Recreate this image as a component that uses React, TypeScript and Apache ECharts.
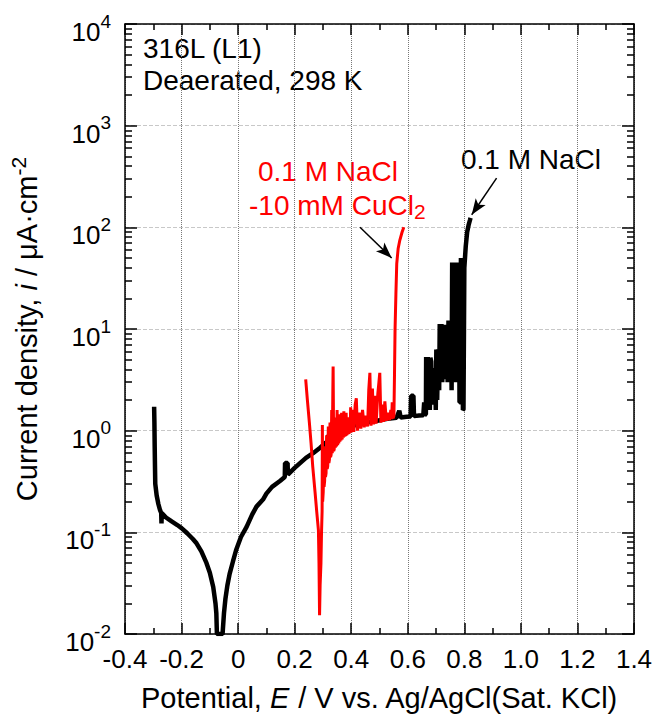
import React, { useEffect, useRef } from 'react';
import * as echarts from 'echarts';

const FONT = "'Liberation Sans', Arial, Helvetica, sans-serif";

// x axis (potential, V)
const xMin = -0.4;
const xMax = 1.4;
const xStep = 0.2;

// y axis (current density, uA/cm2) – log scale
const yMajorTicks = [0.01, 0.1, 1, 10, 100, 1000, 10000];
const yMinorTicks = [
  0.02, 0.03, 0.04, 0.05, 0.06, 0.07, 0.08, 0.09,
  0.2, 0.3, 0.4, 0.5, 0.6, 0.7, 0.8, 0.9,
  2, 3, 4, 5, 6, 7, 8, 9,
  20, 30, 40, 50, 60, 70, 80, 90,
  200, 300, 400, 500, 600, 700, 800, 900,
  2000, 3000, 4000, 5000, 6000, 7000, 8000, 9000,
];

// 0.1 M NaCl – cathodic branch
const blackCathodic: [number, number][] = [
  [-0.297, 1.72], [-0.296, 1.2], [-0.295, 0.7], [-0.294, 0.45], [-0.293, 0.3],
  [-0.288, 0.23], [-0.282, 0.19], [-0.276, 0.165], [-0.272, 0.155], [-0.271, 0.122],
  [-0.27, 0.155], [-0.255, 0.14], [-0.235, 0.128], [-0.215, 0.118], [-0.2, 0.11],
  [-0.18, 0.098], [-0.16, 0.086], [-0.147, 0.078], [-0.13, 0.065], [-0.112, 0.05],
  [-0.1, 0.04], [-0.088, 0.029], [-0.08, 0.02], [-0.077, 0.016], [-0.075, 0.01],
];
// 0.1 M NaCl – anodic branch, passive region
const blackAnodic: [number, number][] = [
  [-0.055, 0.01], [-0.05, 0.016], [-0.045, 0.022], [-0.038, 0.03], [-0.03, 0.039],
  [-0.018, 0.052], [-0.007, 0.067], [0.01, 0.09], [0.03, 0.113], [0.05, 0.15],
  [0.065, 0.179], [0.088, 0.21], [0.1, 0.24], [0.12, 0.28], [0.148, 0.32],
  [0.165, 0.35], [0.166, 0.48], [0.175, 0.48], [0.176, 0.37], [0.2, 0.43],
  [0.219, 0.48], [0.24, 0.54], [0.265, 0.6], [0.29, 0.68], [0.31, 0.76],
  [0.318, 0.8], [0.319, 0.9], [0.326, 0.9], [0.327, 0.86], [0.35, 0.95],
  [0.375, 1.04], [0.395, 1.09], [0.42, 1.15], [0.45, 1.2], [0.478, 1.23],
  [0.51, 1.28], [0.537, 1.32], [0.56, 1.34], [0.57, 1.57], [0.575, 1.35],
  [0.596, 1.37], [0.61, 1.38], [0.612, 2.2], [0.62, 2.2], [0.622, 1.39],
  [0.64, 1.41], [0.655, 1.42],
];
// 0.1 M NaCl – metastable pitting and breakdown
const blackPitting: [number, number][] = [
  [0.657, 1.43], [0.658, 1.9], [0.66, 1.9], [0.661, 1.44], [0.664, 1.45],
  [0.665, 5.3], [0.668, 1.6], [0.67, 5.3], [0.673, 1.6], [0.675, 5.2],
  [0.678, 1.6], [0.68, 5.2], [0.683, 4.8], [0.685, 1.9], [0.688, 4.1],
  [0.691, 1.8], [0.694, 4.1], [0.697, 4.0], [0.699, 1.6], [0.701, 6.3],
  [0.704, 2.0], [0.707, 6.3], [0.709, 6.0], [0.711, 2.5], [0.713, 11.2],
  [0.716, 3.0], [0.719, 11.2], [0.722, 3.0], [0.725, 11], [0.728, 3.2],
  [0.731, 11], [0.734, 3.5], [0.737, 11], [0.739, 10], [0.741, 3.0],
  [0.744, 12.1], [0.747, 3.0], [0.75, 12.1], [0.753, 11], [0.755, 2.5],
  [0.757, 45], [0.76, 3.0], [0.763, 44], [0.766, 3.0], [0.769, 45],
  [0.772, 3.0], [0.775, 44], [0.778, 3.0], [0.781, 45], [0.783, 1.9],
  [0.786, 1.9], [0.788, 50], [0.791, 3.0], [0.793, 50], [0.795, 1.6],
  [0.797, 1.62], [0.8, 40], [0.805, 65], [0.81, 90], [0.815, 105],
  [0.82, 118], [0.822, 124],
];

// 0.1 M NaCl - 10 mM CuCl2
const redCurve: [number, number][] = [
  [0.239, 3.2], [0.245, 2.0], [0.252, 1.2], [0.258, 0.75], [0.264, 0.44],
  [0.272, 0.25], [0.278, 0.16], [0.284, 0.105], [0.286, 0.05], [0.288, 0.0153],
  [0.29, 0.03], [0.293, 0.05], [0.295, 0.1], [0.297, 0.16], [0.298, 1.14],
  [0.299, 0.2], [0.301, 0.25], [0.303, 0.55], [0.304, 0.28], [0.306, 0.32],
  [0.307, 0.7], [0.309, 0.35], [0.311, 0.38], [0.313, 0.9], [0.315, 0.42],
  [0.317, 0.45], [0.319, 1.1], [0.321, 0.48], [0.323, 0.52], [0.325, 1.2],
  [0.327, 0.55], [0.329, 0.58], [0.331, 1.6], [0.333, 0.6], [0.335, 2.5],
  [0.336, 4.27], [0.338, 0.63], [0.34, 0.66], [0.342, 1.35], [0.344, 0.68],
  [0.346, 1.2], [0.348, 0.7], [0.35, 1.6], [0.352, 0.72], [0.354, 1.3],
  [0.356, 0.75], [0.358, 1.45], [0.36, 0.78], [0.362, 1.2], [0.364, 0.8],
  [0.366, 1.5], [0.368, 0.82], [0.37, 1.3], [0.372, 0.85], [0.374, 1.55],
  [0.376, 0.87], [0.378, 1.3], [0.38, 0.88], [0.382, 1.5], [0.384, 0.9],
  [0.386, 1.2], [0.388, 0.92], [0.39, 1.35], [0.392, 0.93], [0.394, 1.2],
  [0.396, 0.95], [0.398, 1.7], [0.4, 0.96], [0.405, 1.6], [0.409, 0.97],
  [0.414, 1.8], [0.418, 2.08], [0.422, 1.0], [0.428, 1.5], [0.434, 1.05],
  [0.44, 1.6], [0.446, 1.08], [0.452, 1.4], [0.458, 1.1], [0.462, 2.5],
  [0.466, 3.7], [0.47, 1.12], [0.475, 2.6], [0.479, 1.15], [0.484, 2.2],
  [0.488, 1.17], [0.494, 2.3], [0.498, 3.0], [0.501, 3.7], [0.505, 1.2],
  [0.51, 1.8], [0.514, 1.22], [0.519, 1.94], [0.524, 1.25], [0.53, 1.5],
  [0.535, 1.27], [0.54, 1.6], [0.543, 1.3], [0.545, 1.9], [0.548, 1.32],
  [0.551, 1.4], [0.553, 3.5], [0.555, 9.8], [0.558, 22], [0.561, 44],
  [0.566, 62], [0.572, 75], [0.58, 90], [0.586, 100],
];

// annotation arrows [start, tip] in data coordinates
const redArrow: [number, number][] = [[0.431, 100], [0.543, 50]];
const blackArrow: [number, number][] = [[0.914, 305], [0.826, 133]];

const blackCurve = [...blackCathodic, ...blackAnodic, ...blackPitting];

export default function App() {
  const ref = useRef<HTMLDivElement>(null);
  useEffect(() => {
    if (!ref.current) return;
    const chart = echarts.init(ref.current, null, { renderer: 'svg' });
    const axisLine = { show: true, onZero: false, lineStyle: { color: '#000', width: 1.5 } };
    const noLine = { show: false, onZero: false };
    const tickStyle = { color: '#000', width: 1.5 };
    const xFmt = (v: number) => (Math.abs(v) < 1e-9 ? '0' : v.toFixed(1));
    const yFmt = (v: number) => `{b|10}{s|${Math.round(Math.log10(v))}}`;
    const baseX = {
      type: 'value',
      min: xMin,
      max: xMax,
      interval: xStep,
      axisLine,
      axisTick: { show: true, inside: true, length: 11, lineStyle: tickStyle },
      minorTick: { show: true, splitNumber: 2, length: 6, lineStyle: tickStyle },
    };
    const baseY = {
      type: 'log',
      logBase: 10,
      min: 0.01,
      max: 10000,
      splitNumber: 6,
      axisLine,
    };
    const arrowLine = (a: [number, number][]) => [
      { coord: a[0], symbol: 'none' },
      { coord: a[1], symbol: 'arrow', symbolSize: [9, 16] },
    ];
    chart.setOption({
      animation: false,
      backgroundColor: '#fff',
      grid: { left: 125, right: 22, top: 24, bottom: 85, containLabel: false },
      xAxis: [
        {
          ...baseX,
          position: 'bottom',
          axisLabel: { formatter: xFmt, color: '#000', fontSize: 26, fontFamily: FONT, margin: 12 },
          splitLine: { show: true, lineStyle: { type: 'dotted', color: '#777', width: 1 } },
          name: '{n|Potential, }{i|E}{n| / V vs. Ag/AgCl(Sat. KCl)}',
          nameLocation: 'middle',
          nameGap: 49,
          nameTextStyle: {
            color: '#000',
            rich: {
              n: { fontSize: 29, fontFamily: FONT, color: '#000' },
              i: { fontSize: 29, fontFamily: FONT, color: '#000', fontStyle: 'italic' },
            },
          },
        },
        {
          ...baseX,
          position: 'top',
          axisLabel: { show: false },
          splitLine: { show: false },
        },
      ],
      yAxis: [
        {
          ...baseY,
          position: 'left',
          axisTick: { show: true, inside: true, length: 12, lineStyle: tickStyle, customValues: yMajorTicks },
          axisLabel: {
            customValues: yMajorTicks,
            formatter: yFmt,
            margin: 14,
            rich: {
              b: { fontSize: 26, fontFamily: FONT, color: '#000', padding: [16, 0, 0, 0] },
              s: { fontSize: 19, fontFamily: FONT, color: '#000', padding: [0, 0, 6, 0] },
            },
          },
          splitLine: { show: true, lineStyle: { type: 'dashed', color: '#c8c8c8', width: 1 } },
          name: '{n|Current density, }{i|i}{n| / μA·cm}{s|-2}',
          nameLocation: 'middle',
          nameRotate: 90,
          nameGap: 80,
          nameTextStyle: {
            color: '#000',
            rich: {
              n: { fontSize: 29, fontFamily: FONT, color: '#000' },
              i: { fontSize: 29, fontFamily: FONT, color: '#000', fontStyle: 'italic' },
              s: { fontSize: 21, fontFamily: FONT, color: '#000', padding: [0, 0, 16, 0] },
            },
          },
        },
        {
          ...baseY,
          position: 'left',
          axisLine: noLine,
          axisTick: { show: true, inside: true, length: 7, lineStyle: tickStyle, customValues: yMinorTicks },
          axisLabel: { show: false },
          splitLine: { show: false },
        },
        {
          ...baseY,
          position: 'right',
          axisTick: { show: true, inside: true, length: 12, lineStyle: tickStyle, customValues: yMajorTicks },
          axisLabel: { show: false },
          splitLine: { show: false },
        },
        {
          ...baseY,
          position: 'right',
          axisLine: noLine,
          axisTick: { show: true, inside: true, length: 7, lineStyle: tickStyle, customValues: yMinorTicks },
          axisLabel: { show: false },
          splitLine: { show: false },
        },
      ],
      series: [
        {
          name: '0.1 M NaCl',
          type: 'line',
          data: blackCurve,
          xAxisIndex: 0,
          yAxisIndex: 0,
          showSymbol: false,
          symbol: 'none',
          lineStyle: { color: '#000', width: 4.5 },
          z: 3,
          silent: true,
        },
        {
          name: '0.1 M NaCl -10 mM CuCl2',
          type: 'line',
          data: redCurve,
          xAxisIndex: 0,
          yAxisIndex: 0,
          showSymbol: false,
          symbol: 'none',
          lineStyle: { color: '#ff0000', width: 3 },
          z: 4,
          silent: true,
          markLine: {
            silent: true,
            animation: false,
            label: { show: false },
            lineStyle: { color: '#000', width: 1.5, type: 'solid' },
            data: [arrowLine(redArrow), arrowLine(blackArrow)],
          },
        },
      ],
      graphic: [
        {
          type: 'text',
          left: 143,
          top: 34,
          style: { text: '316L (L1)', fontSize: 28, fontFamily: FONT, fill: '#000' },
        },
        {
          type: 'text',
          left: 143,
          top: 66,
          style: { text: 'Deaerated, 298 K', fontSize: 28, fontFamily: FONT, fill: '#000' },
        },
        {
          type: 'text',
          left: 258,
          top: 157,
          style: { text: '0.1 M NaCl', fontSize: 28, fontFamily: FONT, fill: '#ff0000' },
        },
        {
          type: 'text',
          left: 249,
          top: 191,
          style: {
            text: '{n|-10 mM CuCl}{sub|2}',
            rich: {
              n: { fontSize: 28, fontFamily: FONT, fill: '#ff0000' },
              sub: { fontSize: 21, fontFamily: FONT, fill: '#ff0000', padding: [12, 0, 0, 0] },
            },
          },
        },
        {
          type: 'text',
          left: 461,
          top: 145,
          style: { text: '0.1 M NaCl', fontSize: 28, fontFamily: FONT, fill: '#000' },
        },
      ],
    });
    return () => chart.dispose();
  }, []);
  return (
    <div
      ref={ref}
      style={{ position: 'fixed', left: 0, top: 0, width: 656, height: 719, background: '#fff' }}
    />
  );
}
